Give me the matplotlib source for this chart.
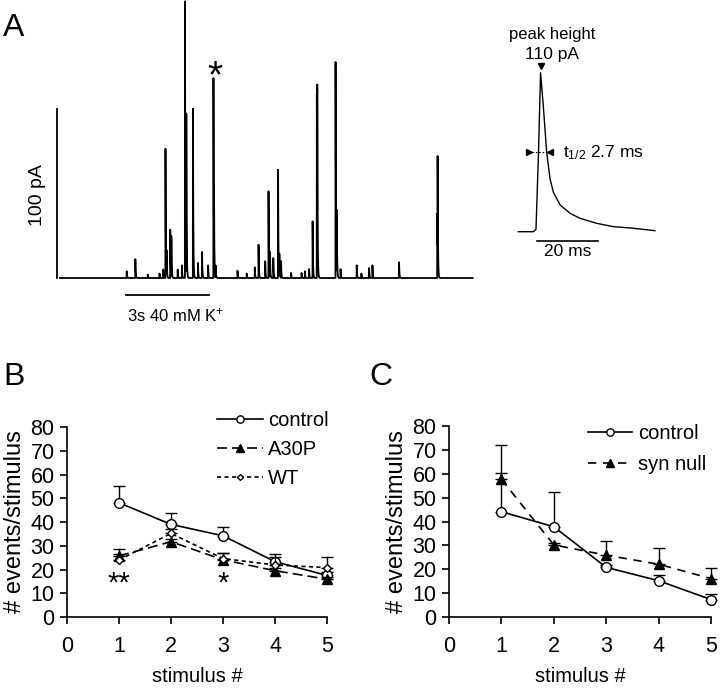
import numpy as np
import matplotlib
matplotlib.use("Agg")
import matplotlib.pyplot as plt

plt.rcParams['font.family'] = ['Liberation Sans', 'DejaVu Sans']
plt.rcParams['mathtext.fontset'] = 'custom'
plt.rcParams['mathtext.rm'] = 'Liberation Sans'
plt.rcParams['mathtext.it'] = 'Liberation Sans:italic'

# ---- A: events during 40 mM K+ (time in s, peak in pA)
event_t = [2.41, 2.72, 3.17, 3.59, 3.73, 3.81, 3.85, 3.98, 4.02, 4.25, 4.40,
           4.51, 4.56, 4.80, 4.98, 5.13, 5.35, 5.54, 5.56, 5.62, 6.41, 6.74,
           7.03, 7.17, 7.41, 7.53, 7.58, 7.70, 7.87, 7.92, 7.98, 8.34, 8.72,
           8.84, 8.99, 9.12, 9.27, 9.29, 9.95, 9.99, 10.13, 10.71, 10.88,
           11.16, 11.28, 12.24, 13.62, 13.63]
event_amp = [3.9, 11.2, 2.0, 2.6, 5.0, 76.5, 13.8, 28.6, 23.7, 5.0, 7.5,
             163.7, 94.3, 100.2, 8.9, 15.4, 7.5, 118.3, 31.2, 7.0, 4.3, 2.6,
             6.3, 19.7, 9.9, 51.3, 14.8, 11.8, 64.1, 13.2, 9.9, 3.0, 3.0,
             4.0, 5.3, 33.5, 109.0, 85.8, 127.8, 37.0, 5.3, 7.5, 2.6,
             5.9, 7.5, 9.3, 38.0, 58.2]
star_event = 17
trace_end = 14.9

# inset: single event (time in ms, current in pA)
inset_t = [0, 4.9, 5.8, 6.6, 7.3, 8.2, 9.3, 10.4, 11.5, 13.7, 17.0, 20.2,
           25.7, 31.1, 37.7, 44.8]
inset_i = [0, 0, 1.7, 53, 110, 87, 55, 36.6, 27.3, 18.5, 12.7, 9.3,
           5.8, 3.5, 2.4, 0.7]

# ---- B and C
stim = [1, 2, 3, 4, 5]
b_control = [48.1, 39.0, 34.2, 23.3, 17.5]
b_control_err = [7.1, 4.7, 3.8, 3.2, 1.5]
b_a30p = [25.7, 31.7, 24.1, 19.5, 15.9]
b_a30p_err = [2.9, 1.2, 2.9, 1.2, 1.0]
b_wt = [24.0, 35.2, 24.6, 21.9, 20.8]
b_wt_err = [2.5, 2.0, 2.2, 3.5, 4.6]

c_control = [44.1, 37.8, 20.8, 15.2, 7.3]
c_control_err = [16.1, 14.7, 1.0, 2.5, 2.2]
c_null = [57.7, 30.2, 25.9, 22.1, 16.1]
c_null_err = [14.3, 1.0, 6.0, 7.0, 4.6]

W, H = 720, 688
fig = plt.figure(figsize=(W / 100, H / 100), dpi=100)


def px_axes(l, t, r, b):
    return fig.add_axes([l / W, 1 - b / H, (r - l) / W, (b - t) / H])


def px_text(x, y, s, **kw):
    fig.text(x / W, 1 - y / H, s, **kw)


# ---------------- A
ax = px_axes(50, 0, 480, 300)
sx, sy = 27.7, 1.69  # px per s, px per pA
ax.set_xlim(-10 / sx, 420 / sx)
ax.set_ylim(-22 / sy, 278 / sy)
ax.axis('off')

dt = 0.004
t = np.arange(0, trace_end, dt)
y = np.zeros_like(t)
for et, ea in zip(event_t, event_amp):
    i0 = int(round(et / dt))
    y[i0:] += ea * np.exp(-(t[i0:] - t[i0]) / 0.012)
ax.plot(t, y, color='black', lw=1.3, clip_on=False)
ax.plot([-3 / sx, -3 / sx], [0, 100], color='black', lw=1.3)
ax.plot([66 / sx, 149 / sx], [-17 / sy, -17 / sy], color='black', lw=1.3,
        clip_on=False)
ax.annotate('*', xy=(event_t[star_event], event_amp[star_event]),
            xytext=(1, -7), textcoords='offset points', ha='center',
            va='baseline', fontsize=28)

px_text(14, 28, 'A', fontsize=23, ha='center', va='center')
px_text(38, 195, '100 pA', rotation=90, fontsize=14, ha='center', va='center')
px_text(127, 315, '3s 40 mM K$^{+}$', fontsize=12, ha='left', va='center')

# inset
axi = px_axes(510, 60, 665, 245)
ix, iy = 3.05, 1.445  # px per ms, px per pA
axi.set_xlim(-8.3 / ix, 146.7 / ix)
axi.set_ylim(-13.3 / iy, 171.7 / iy)
axi.axis('off')
axi.plot(inset_t, inset_i, color='black', lw=1.0)
axi.plot([6.1, 26.1], [-6.4, -6.4], color='black', lw=1.2, clip_on=False)
pk = int(np.argmax(inset_i))
axi.plot(inset_t[pk], inset_i[pk] + 4.5, marker='v', color='black',
         markersize=4, clip_on=False)
half = inset_i[pk] / 2
axi.plot([4.6, 9.5], [half, half], color='black', lw=0.8, ls=(0, (1.5, 1.5)))
axi.plot(3.6, half, marker='>', color='black', markersize=4)
axi.plot(10.4, half, marker='<', color='black', markersize=4)
axi.text(14.6, half, 't$_{1/2}$ 2.7 ms', fontsize=12.5, ha='left', va='center')
px_text(552, 34, 'peak height', fontsize=12, ha='center', va='center')
px_text(552, 55, '110 pA', fontsize=12.5, ha='center', va='center')
px_text(568, 252, '20 ms', fontsize=12.5, ha='center', va='center')


# ---------------- B, C
def style_axes(ax):
    ax.set_xlim(0, 5)
    ax.set_ylim(0, 80)
    ax.set_xticks(range(6))
    ax.set_yticks(range(0, 81, 10))
    for s in ['top', 'right']:
        ax.spines[s].set_visible(False)
    for s in ['left', 'bottom']:
        ax.spines[s].set_linewidth(1.2)
    ax.tick_params(direction='out', length=5, width=1.2, labelsize=15.5)
    ax.tick_params(axis='x', pad=9)
    ax.tick_params(axis='y', pad=4)
    ax.set_xlabel('stimulus #', fontsize=14.5, labelpad=7)
    ax.set_ylabel('# events/stimulus', fontsize=17, labelpad=3)


def series(ax, vals, err, **kw):
    return ax.errorbar(stim, vals, yerr=[np.zeros(len(err)), err],
                       color='black', ecolor='black', elinewidth=1.0,
                       capsize=4, capthick=1.0, lw=1.2, clip_on=False, **kw)


axb = px_axes(67, 427, 327, 617)
style_axes(axb)
h1 = series(axb, b_control, b_control_err, marker='o', markersize=7,
            markerfacecolor='white', markeredgecolor='black', zorder=3)
h2 = series(axb, b_a30p, b_a30p_err, marker='^', markersize=7,
            ls=(0, (6, 3)), markerfacecolor='black', zorder=4)
h3 = series(axb, b_wt, b_wt_err, marker='D', markersize=4, ls=(0, (2.5, 2)),
            markerfacecolor='white', markeredgecolor='black', zorder=5)
axb.text(1, 10.5, '**', fontsize=21, ha='center', va='baseline')
axb.text(3, 10.5, '*', fontsize=21, ha='center', va='baseline')
axb.legend([h1[0], h2[0], h3[0]], ['control', 'A30P', 'WT'],
           loc='upper left', bbox_to_anchor=(217 / W, 1 - 411 / H),
           bbox_transform=fig.transFigure, frameon=False, fontsize=14.5,
           handlelength=2.3, handletextpad=0.25, labelspacing=0.5,
           borderpad=0, borderaxespad=0, markerscale=0.75)
px_text(14, 377, 'B', fontsize=23, ha='center', va='center')

axc = px_axes(449, 426, 711, 617)
style_axes(axc)
g1 = series(axc, c_control, c_control_err, marker='o', markersize=7,
            markerfacecolor='white', markeredgecolor='black', zorder=3)
g2 = series(axc, c_null, c_null_err, marker='^', markersize=7,
            ls=(0, (5, 4)), markerfacecolor='black', zorder=4)
axc.legend([g1[0], g2[0]], ['control', 'syn null'],
           loc='upper left', bbox_to_anchor=(588 / W, 1 - 424 / H),
           bbox_transform=fig.transFigure, frameon=False, fontsize=14.5,
           handlelength=2.2, handletextpad=0.3, labelspacing=0.62,
           borderpad=0, borderaxespad=0, markerscale=0.75)
px_text(381, 377, 'C', fontsize=23, ha='center', va='center')

fig.savefig('out.png', dpi=100)
